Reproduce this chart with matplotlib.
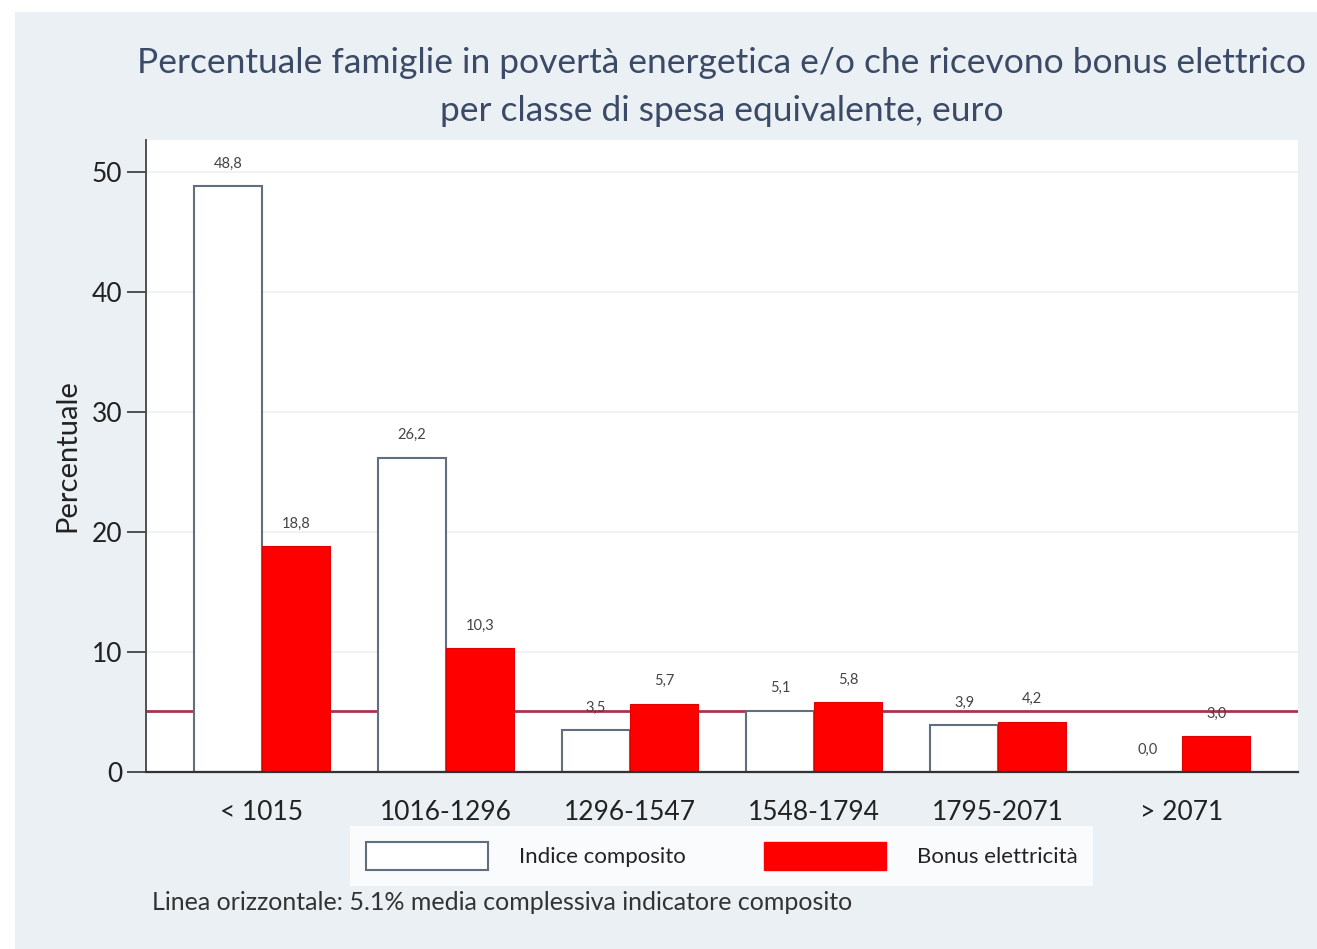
import numpy as np
import matplotlib.pyplot as plt
from matplotlib.patches import Patch, Rectangle

plt.rcParams['font.family'] = ['Lato', 'DejaVu Sans']

classi = ['< 1015', '1016-1296', '1296-1547', '1548-1794', '1795-2071', '> 2071']
indice = [48.8, 26.2, 3.5, 5.1, 3.9, 0.0]
bonus = [18.8, 10.3, 5.7, 5.8, 4.2, 3.0]
media = 5.1

bg = '#eaf0f3'
navy = '#3b4a66'

fig = plt.figure(figsize=(13.17, 9.49), dpi=100, facecolor='white')
fig.patches.append(Rectangle((15 / 1317, 0), 1 - 15 / 1317, 1 - 12 / 949,
                             transform=fig.transFigure, facecolor=bg,
                             edgecolor='none', zorder=-10))

ax = fig.add_axes([146 / 1317, 1 - 772 / 949, (1298 - 146) / 1317, (772 - 140) / 949])
ax.set_facecolor('white')

x = np.arange(len(classi))
w = 0.37
ax.axhline(media, color='#a8334f', lw=2, zorder=1)
b1 = ax.bar(x - w / 2, indice, w, color='white', edgecolor='#5f6f80', lw=1.5, zorder=2)
b2 = ax.bar(x + w / 2, bonus, w, color='#ff0000', edgecolor='#e00000', lw=0.8, zorder=2)

for bars, vals in ((b1, indice), (b2, bonus)):
    for r, v in zip(bars, vals):
        ax.text(r.get_x() + r.get_width() / 2, v + 1.3, f'{v:.1f}'.replace('.', ','),
                ha='center', va='bottom', fontsize=10.5, color='#444444', zorder=3)

ax.set_xlim(-0.63, 5.63)
ax.set_ylim(0, 52.67)
ax.set_yticks([0, 10, 20, 30, 40, 50])
ax.yaxis.grid(True, color='#eef1f3', lw=1.2)
ax.set_axisbelow(True)
ax.set_xticks(x)
ax.set_xticklabels(classi, fontsize=19, color='#222222')
ax.tick_params(axis='x', length=0, pad=20)
ax.tick_params(axis='y', labelsize=19, length=14, width=1.3, color='#444444',
               labelcolor='#222222', pad=3)
for s in ('top', 'right'):
    ax.spines[s].set_visible(False)
ax.spines['left'].set_color('#444444')
ax.spines['left'].set_linewidth(1.3)
ax.spines['bottom'].set_color('#333333')
ax.spines['bottom'].set_linewidth(1.6)
ax.set_ylabel('Percentuale', fontsize=21, color='#222222', labelpad=8)

fig.text(0.548, 1 - 63 / 949, 'Percentuale famiglie in povertà energetica e/o che ricevono bonus elettrico',
         ha='center', va='center', fontsize=25.5, color=navy)
fig.text(0.548, 1 - 111 / 949, 'per classe di spesa equivalente, euro',
         ha='center', va='center', fontsize=25.5, color=navy)

handles = [Patch(facecolor='white', edgecolor='#5f6f80', lw=1.5),
           Patch(facecolor='#ff0000', edgecolor='#ff0000')]
leg = fig.legend(handles, ['Indice composito', 'Bonus elettricità'], ncol=2,
                 loc='center', bbox_to_anchor=(0.548, 1 - 856 / 949),
                 fontsize=16, frameon=True, fancybox=False, handlelength=5.5,
                 handleheight=1.6, columnspacing=3.5, handletextpad=1.4,
                 borderpad=0.7)
leg.get_frame().set_facecolor('white')
leg.get_frame().set_edgecolor('none')
for t in leg.get_texts():
    t.set_color('#222222')

fig.text(152 / 1317, 1 - 903 / 949, 'Linea orizzontale: 5.1% media complessiva indicatore composito',
         ha='left', va='center', fontsize=18, color='#333333')

fig.savefig('out.png', dpi=100, facecolor='white')
